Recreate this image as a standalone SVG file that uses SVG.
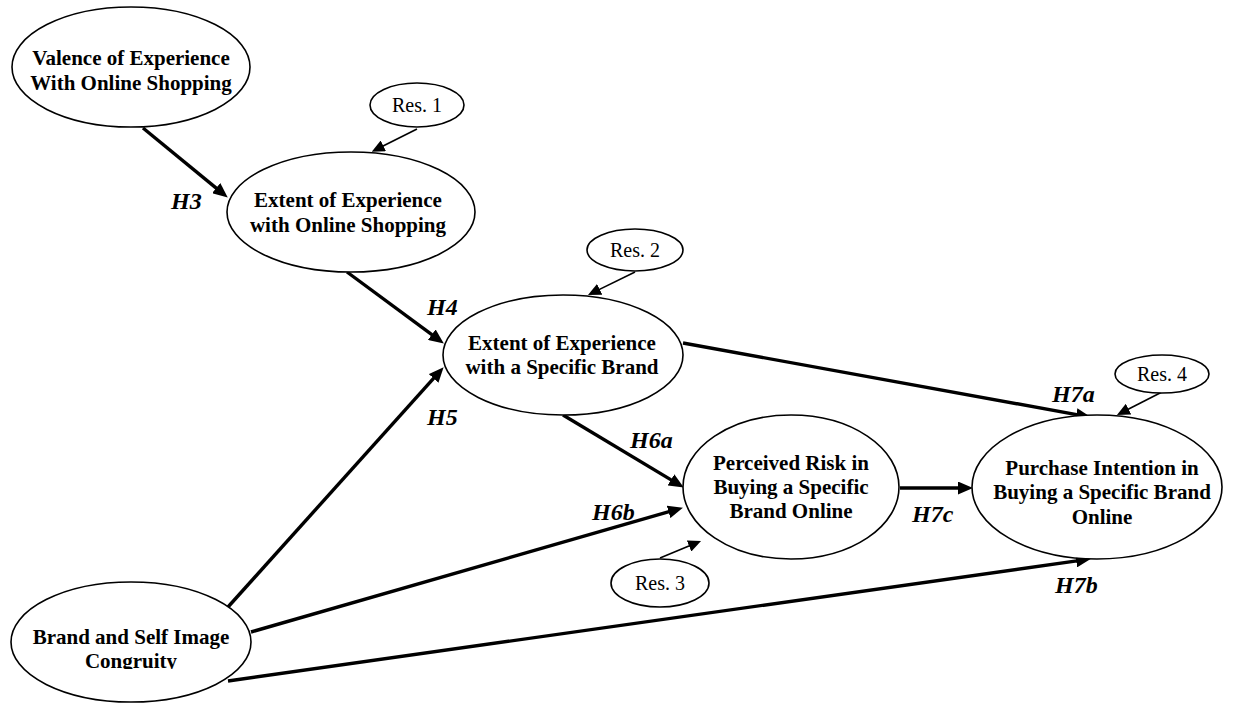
<svg xmlns="http://www.w3.org/2000/svg" width="1235" height="705" viewBox="0 0 1235 705">
  <style>
    .node { fill: #ffffff; stroke: #000000; stroke-width: 1.6; }
    .title { font-family: "Liberation Serif", "Times New Roman", serif; font-weight: bold; font-size: 21px; fill: #000; text-anchor: middle; }
    .res { font-family: "Liberation Serif", "Times New Roman", serif; font-size: 20px; fill: #000; text-anchor: middle; }
    .hyp { font-family: "Liberation Serif", "Times New Roman", serif; font-weight: bold; font-style: italic; font-size: 24px; fill: #000; }
    .path { stroke: #000; stroke-width: 3.4; fill: none; marker-end: url(#bigArrow); }
    .err { stroke: #000; stroke-width: 1.6; fill: none; marker-end: url(#smallArrow); }
  </style>
  <defs>
    <marker id="bigArrow" markerUnits="userSpaceOnUse" markerWidth="15" markerHeight="13" refX="6" refY="6.5" orient="auto">
      <path d="M0,0 L15,6.5 L0,13 z" fill="#000"/>
    </marker>
    <marker id="smallArrow" markerUnits="userSpaceOnUse" markerWidth="13" markerHeight="12" refX="7" refY="6" orient="auto">
      <path d="M0,0 L13,6 L0,12 z" fill="#000"/>
    </marker>
    <clipPath id="congruityClip">
      <rect x="0" y="600" width="260" height="69"/>
    </clipPath>
  </defs>

  <rect width="1235" height="705" fill="#ffffff"/>

  <!-- structural paths and residual arrows -->
  <g id="connectors">
    <line class="path" x1="143" y1="128" x2="220.8" y2="191.9"/>
    <line class="path" x1="347" y1="272" x2="436.6" y2="338.2"/>
    <line class="path" x1="228" y1="607" x2="437.6" y2="373.9"/>
    <line class="path" x1="563" y1="415" x2="676.1" y2="482.9"/>
    <line class="path" x1="251" y1="632" x2="674.3" y2="510.2"/>
    <line class="path" x1="683" y1="343" x2="1082.1" y2="415.6"/>
    <line class="path" x1="228" y1="681" x2="1082.1" y2="560.1"/>
    <line class="path" x1="900" y1="488" x2="964" y2="488"/>

    <line class="err" x1="417" y1="129" x2="377.1" y2="149.0"/>
    <line class="err" x1="635" y1="272" x2="593.4" y2="292.4"/>
    <line class="err" x1="660" y1="558" x2="695.5" y2="543.3"/>
    <line class="err" x1="1162" y1="392" x2="1122.3" y2="412.3"/>

    <text class="hyp" x="171" y="209">H3</text>
    <text class="hyp" x="427" y="315">H4</text>
    <text class="hyp" x="427" y="425">H5</text>
    <text class="hyp" x="630" y="448">H6a</text>
    <text class="hyp" x="592" y="520">H6b</text>
    <text class="hyp" x="1052" y="402">H7a</text>
    <text class="hyp" x="1055" y="593">H7b</text>
    <text class="hyp" x="912" y="522">H7c</text>
  </g>

  <g id="valence">
    <ellipse class="node" cx="131" cy="67" rx="119" ry="60"/>
    <text class="title" x="131" y="65">Valence of Experience</text>
    <text class="title" x="131" y="90">With Online Shopping</text>
  </g>

  <g id="res1">
    <ellipse class="node" cx="417" cy="105" rx="47" ry="22"/>
    <text class="res" x="417" y="112">Res. 1</text>
  </g>

  <g id="online-experience">
    <ellipse class="node" cx="351" cy="212" rx="124" ry="60"/>
    <text class="title" x="348" y="207">Extent of Experience</text>
    <text class="title" x="348" y="232">with Online Shopping</text>
  </g>

  <g id="res2">
    <ellipse class="node" cx="635" cy="250" rx="48" ry="21"/>
    <text class="res" x="635" y="257">Res. 2</text>
  </g>

  <g id="brand-experience">
    <ellipse class="node" cx="563" cy="355" rx="120" ry="60"/>
    <text class="title" x="562" y="350">Extent of Experience</text>
    <text class="title" x="562" y="374">with a Specific Brand</text>
  </g>

  <g id="res4">
    <ellipse class="node" cx="1162" cy="374" rx="47" ry="19"/>
    <text class="res" x="1162" y="381">Res. 4</text>
  </g>

  <g id="perceived-risk">
    <ellipse class="node" cx="791" cy="487" rx="108" ry="72"/>
    <text class="title" x="791" y="470">Perceived Risk in</text>
    <text class="title" x="791" y="494">Buying a Specific</text>
    <text class="title" x="791" y="518">Brand Online</text>
  </g>

  <g id="res3">
    <ellipse class="node" cx="660" cy="583" rx="49" ry="24"/>
    <text class="res" x="660" y="590">Res. 3</text>
  </g>

  <g id="purchase-intention">
    <ellipse class="node" cx="1097" cy="487" rx="125" ry="72"/>
    <text class="title" x="1102" y="475">Purchase Intention in</text>
    <text class="title" x="1102" y="499">Buying a Specific Brand</text>
    <text class="title" x="1102" y="524">Online</text>
  </g>

  <g id="congruity">
    <ellipse class="node" cx="131" cy="642" rx="120" ry="60"/>
    <text class="title" x="131" y="644">Brand and Self Image</text>
    <text class="title" x="131" y="668" clip-path="url(#congruityClip)">Congruity</text>
  </g>
</svg>
